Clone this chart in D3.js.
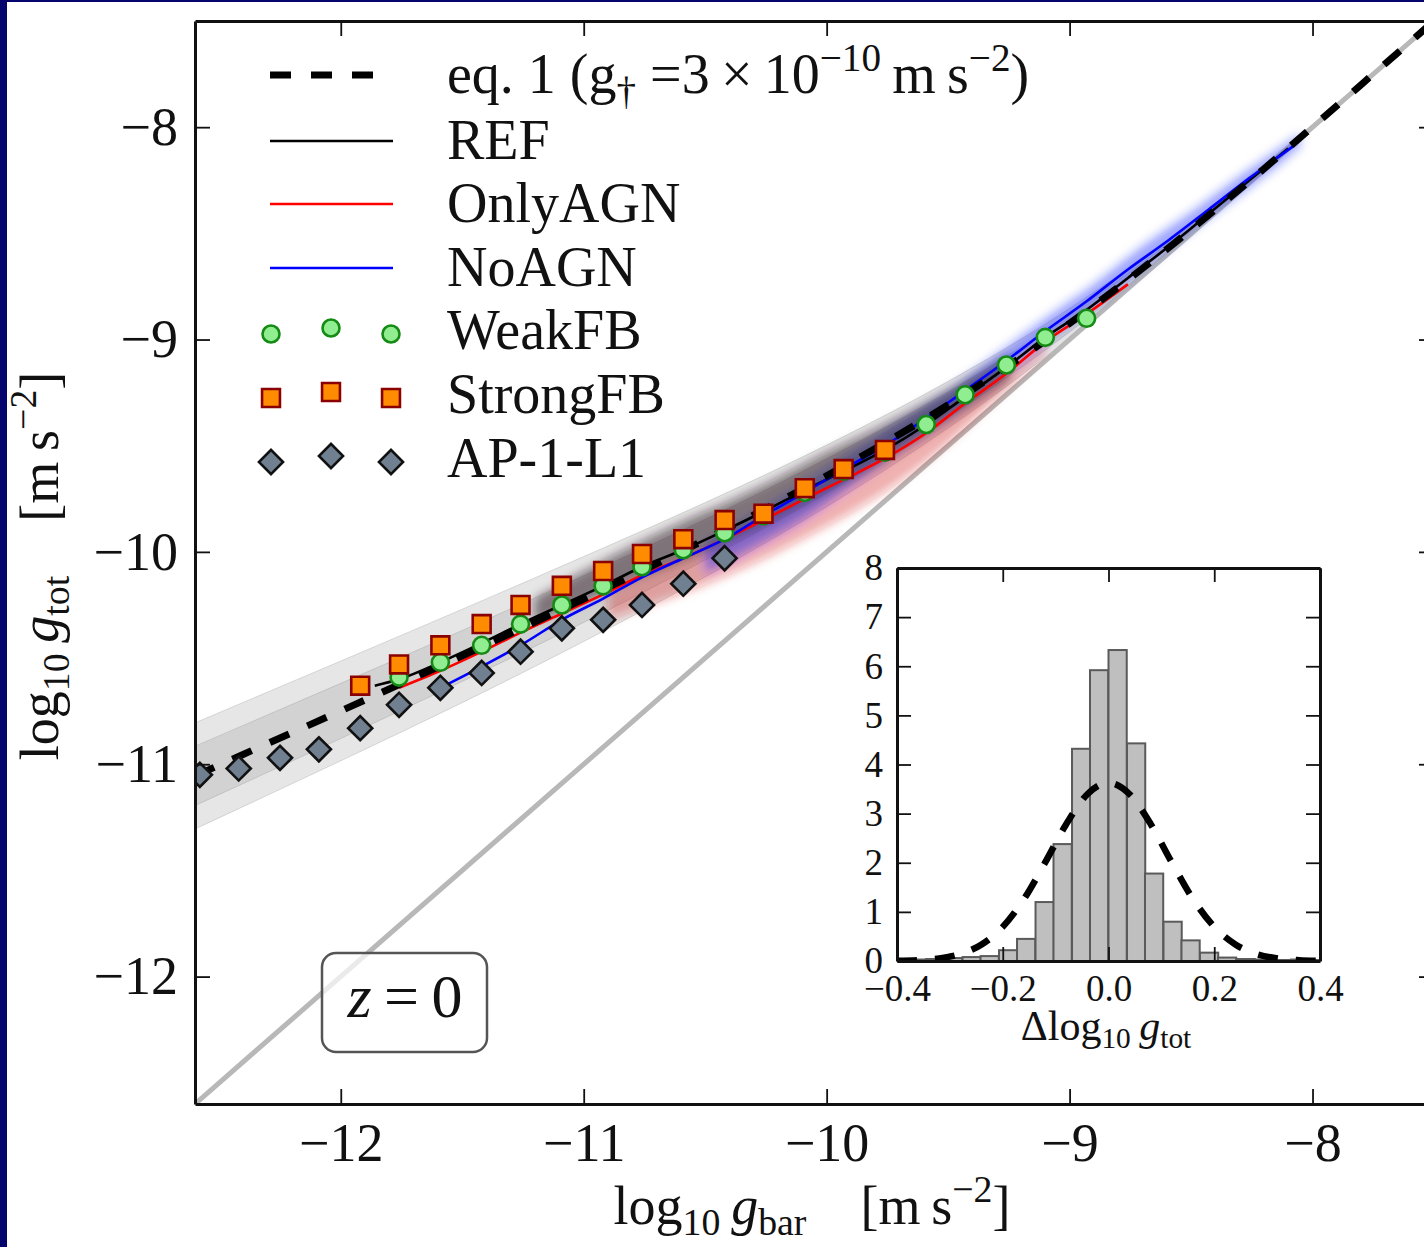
<!DOCTYPE html>
<html>
<head>
<meta charset="utf-8">
<script src="https://cdn.jsdelivr.net/npm/d3@7"></script>
<style>
body { margin: 0; background: #fff; }
svg text { font-family: "Liberation Serif", "DejaVu Serif", serif; fill: #111; }
</style>
</head>
<body>
<svg width="1424" height="1247"></svg>
<script>
// ---- data (log10 accelerations, m s^-2) ----
const binX = [-12.58, -12.42, -12.25, -12.09, -11.92, -11.76, -11.59, -11.42, -11.26, -11.09, -10.92,
	-10.76, -10.59, -10.42, -10.26, -10.09, -9.93, -9.76, -9.59, -9.43, -9.26, -9.10, -8.93];
const weakFB = [null, null, null, null, null, -10.59, -10.52, -10.44, -10.34, -10.25, -10.16,
	-10.07, -9.99, -9.91, -9.83, -9.72, -9.62, -9.53, -9.40, -9.26, -9.12, -8.99, -8.90];
const strongFB = [null, null, null, null, -10.63, -10.53, -10.44, -10.34, -10.25, -10.16, -10.09,
	-10.01, -9.94, -9.85, -9.82, -9.70, -9.61, -9.52, null, null, null, null, null];
const ap1L1 = [-11.05, -11.02, -10.97, -10.93, -10.83, -10.72, -10.64, -10.57, -10.47, -10.36, -10.32,
	-10.25, -10.15, -10.03, null, null, null, null, null, null, null, null, null];

const refLine = [[-11.86, -10.63], [-11.76, -10.60], [-11.59, -10.52], [-11.42, -10.43], [-11.26, -10.34],
	[-11.09, -10.25], [-10.92, -10.16], [-10.76, -10.07], [-10.59, -9.99], [-10.42, -9.90], [-10.26, -9.81],
	[-10.09, -9.71], [-9.93, -9.62], [-9.76, -9.52], [-9.59, -9.40], [-9.43, -9.27], [-9.26, -9.13],
	[-9.10, -8.99], [-8.93, -8.86], [-8.76, -8.71], [-8.59, -8.56], [-8.43, -8.41], [-8.26, -8.25], [-8.10, -8.10]];
const onlyAGNLine = [[-11.76, -10.64], [-11.59, -10.56], [-11.42, -10.47], [-11.26, -10.38], [-11.09, -10.29],
	[-10.92, -10.20], [-10.76, -10.11], [-10.59, -10.03], [-10.42, -9.94], [-10.26, -9.85], [-10.09, -9.75],
	[-9.93, -9.66], [-9.76, -9.56], [-9.59, -9.44], [-9.43, -9.30], [-9.26, -9.16], [-9.10, -9.01],
	[-8.93, -8.88], [-8.76, -8.74]];
const noAGNLine = [[-11.59, -10.64], [-11.42, -10.54], [-11.26, -10.44], [-11.09, -10.32], [-10.92, -10.22],
	[-10.76, -10.12], [-10.59, -10.03], [-10.42, -9.94], [-10.26, -9.83], [-10.09, -9.72], [-9.93, -9.61],
	[-9.76, -9.50], [-9.59, -9.37], [-9.43, -9.24], [-9.26, -9.10], [-9.10, -8.96], [-8.93, -8.82],
	[-8.76, -8.67], [-8.59, -8.53], [-8.43, -8.39], [-8.26, -8.24], [-8.08, -8.09]];

// eq. 1 with g_dagger = 3e-10
const eqX = [-12.6, -12.4, -12.2, -12.0, -11.8, -11.6, -11.4, -11.2, -11.0, -10.8, -10.6, -10.4, -10.2,
	-10.0, -9.8, -9.6, -9.4, -9.2, -9.0, -8.8, -8.6, -8.4, -8.2, -8.0, -7.75, -7.5];
const eqY = [-11.055, -10.953, -10.851, -10.749, -10.646, -10.542, -10.437, -10.330, -10.222, -10.112,
	-10.000, -9.885, -9.766, -9.642, -9.513, -9.378, -9.235, -9.084, -8.924, -8.754, -8.575, -8.388,
	-8.196, -7.999, -7.750, -7.500];

// grey scatter bands around eq. 1
const bandX = [-12.6, -12.0, -11.5, -11.0, -10.5, -10.0, -9.5, -9.0, -8.5, -8.0, -7.5];
const outerHi = [-10.805, -10.514, -10.27, -10.022, -9.768, -9.497, -9.197, -8.854, -8.447, -7.987, -7.497];
const outerLo = [-11.305, -10.984, -10.71, -10.422, -10.118, -9.787, -9.417, -8.994, -8.517, -8.011, -7.503];
const innerHi = [-10.915, -10.619, -10.37, -10.112, -9.848, -9.562, -9.247, -8.884, -8.462, -7.992, -7.498];
const innerLo = [-11.195, -10.879, -10.61, -10.332, -10.038, -9.722, -9.367, -8.964, -8.502, -8.006, -7.502];

// clouds of individual galaxies
const cloudRefX = [-11.2, -11.0, -10.8, -10.6, -10.4, -10.2, -10.0, -9.8, -9.6, -9.4, -9.25];
const cloudRefHi = [-10.22, -10.09, -9.97, -9.86, -9.76, -9.65, -9.53, -9.42, -9.30, -9.17, -9.07];
const cloudRefLo = [-10.33, -10.24, -10.14, -10.05, -9.95, -9.84, -9.72, -9.60, -9.46, -9.31, -9.19];
const cloudAgnX = [-10.9, -10.7, -10.5, -10.3, -10.1, -9.9, -9.7, -9.5, -9.3, -9.1];
const cloudAgnHi = [-10.20, -10.09, -9.985, -9.875, -9.76, -9.645, -9.52, -9.37, -9.20, -9.01];
const cloudAgnLo = [-10.32, -10.24, -10.155, -10.055, -9.94, -9.815, -9.67, -9.49, -9.28, -9.06];
const cloudNoAgnX = [-10.5, -10.3, -10.1, -9.9, -9.7, -9.5, -9.3, -9.1, -8.9, -8.7, -8.5, -8.3, -8.1, -8.05];
const cloudNoAgnHi = [-9.96, -9.83, -9.69, -9.54, -9.39, -9.24, -9.07, -8.90, -8.74, -8.56, -8.40, -8.23, -8.07, -8.03];
const cloudNoAgnLo = [-10.10, -9.98, -9.85, -9.69, -9.53, -9.37, -9.19, -9.01, -8.85, -8.67, -8.49, -8.32, -8.14, -8.09];

// inset histogram of residuals
const histLeft = [-0.414, -0.380, -0.345, -0.311, -0.276, -0.242, -0.207, -0.173, -0.138, -0.104, -0.069,
	-0.035, 0.0, 0.035, 0.069, 0.104, 0.138, 0.173, 0.207, 0.242, 0.276, 0.311, 0.345, 0.380];
const histHeight = [0.03, 0.03, 0.04, 0.06, 0.08, 0.10, 0.22, 0.45, 1.20, 2.38, 4.32,
	5.92, 6.33, 4.43, 1.78, 0.80, 0.42, 0.17, 0.07, 0.04, 0.03, 0.02, 0.03, 0.02];
const histWidth = 0.0345;
const gaussX = [-0.40, -0.36, -0.32, -0.28, -0.24, -0.20, -0.16, -0.12, -0.08, -0.04, 0.0,
	0.04, 0.08, 0.12, 0.16, 0.20, 0.24, 0.28, 0.32, 0.36, 0.40];
const gaussY = [0.005, 0.017, 0.053, 0.142, 0.336, 0.695, 1.259, 2.001, 2.784, 3.395, 3.627,
	3.395, 2.784, 2.001, 1.259, 0.695, 0.336, 0.142, 0.053, 0.017, 0.005];

const mainTicks = [-12, -11, -10, -9, -8];
const insetXTicks = [-0.4, -0.2, 0.0, 0.2, 0.4];
const insetYTicks = [0, 1, 2, 3, 4, 5, 6, 7, 8];
const legendNames = ["REF", "OnlyAGN", "NoAGN", "WeakFB", "StrongFB", "AP-1-L1"];

// ---- drawing ----
const svg = d3.select("svg"),
	width = +svg.attr("width"),
	height = +svg.attr("height");

svg.append("rect").attr("width", width).attr("height", height).attr("fill", "#04046c");
svg.append("rect").attr("x", 7).attr("y", 2).attr("width", width).attr("height", height).attr("fill", "#fff");

const x = d3.scaleLinear().domain([-12.6, -7.5]).range([195, 1434]);
const y = d3.scaleLinear().domain([-12.6, -7.5]).range([1104, 21]);

const defs = svg.append("defs");
defs.append("clipPath").attr("id", "plotclip").append("rect")
	.attr("x", 195).attr("y", 21).attr("width", 1239).attr("height", 1083);
defs.append("filter").attr("id", "soft")
	.attr("x", "-20%").attr("y", "-40%").attr("width", "140%").attr("height", "180%")
	.append("feGaussianBlur").attr("stdDeviation", 5);

const plot = svg.append("g").attr("clip-path", "url(#plotclip)");

function zip3(xs, lo, hi) {
	return xs.map(function(d, i) { return [d, lo[i], hi[i]]; });
}
const area = d3.area()
	.x(function(d) { return x(d[0]); })
	.y0(function(d) { return y(d[1]); })
	.y1(function(d) { return y(d[2]); })
	.curve(d3.curveMonotoneX);
const line = d3.line()
	.x(function(d) { return x(d[0]); })
	.y(function(d) { return y(d[1]); })
	.curve(d3.curveMonotoneX);

// grey bands
[[outerLo, outerHi], [innerLo, innerHi]].forEach(function(b) {
	plot.append("path")
		.attr("d", area(zip3(bandX, b[0], b[1])))
		.attr("fill", "#808080")
		.attr("fill-opacity", 0.2)
		.attr("stroke", "#808080")
		.attr("stroke-opacity", 0.25)
		.attr("stroke-width", 1);
});

// one-to-one line
plot.append("line")
	.attr("x1", x(-12.6)).attr("y1", y(-12.6))
	.attr("x2", x(-7.5)).attr("y2", y(-7.5))
	.attr("stroke", "#b8b8b8")
	.attr("stroke-width", 5);

// clouds
const clouds = plot.append("g").attr("filter", "url(#soft)");
clouds.append("path").attr("d", area(zip3(cloudAgnX, cloudAgnLo, cloudAgnHi)))
	.attr("fill", "#d01010").attr("fill-opacity", 0.35);
clouds.append("path").attr("d", area(zip3(cloudNoAgnX, cloudNoAgnLo, cloudNoAgnHi)))
	.attr("fill", "#2030ff").attr("fill-opacity", 0.45);
clouds.append("path").attr("d", area(zip3(cloudRefX, cloudRefLo, cloudRefHi)))
	.attr("fill", "#2a1a24").attr("fill-opacity", 0.5);

// median lines
[[refLine, "#000"], [onlyAGNLine, "#ff0000"], [noAGNLine, "#0000ff"]].forEach(function(l) {
	plot.append("path")
		.attr("d", line(l[0]))
		.attr("fill", "none")
		.attr("stroke", l[1])
		.attr("stroke-width", 2.6);
});

// eq. 1
plot.append("path")
	.attr("d", line(eqX.map(function(d, i) { return [d, eqY[i]]; })))
	.attr("fill", "none")
	.attr("stroke", "#000")
	.attr("stroke-width", 7)
	.attr("stroke-dasharray", "21,20");

// binned points
const sq = d3.symbol().type(d3.symbolSquare);
plot.selectAll("circle.weak")
	.data(binX.map(function(d, i) { return [d, weakFB[i]]; }).filter(function(d) { return d[1] !== null; }))
	.enter().append("circle")
	.attr("class", "weak")
	.attr("cx", function(d) { return x(d[0]); })
	.attr("cy", function(d) { return y(d[1]); })
	.attr("r", 8.5)
	.attr("fill", "#90ee90")
	.attr("stroke", "#158a15")
	.attr("stroke-width", 2.6);
plot.selectAll("path.strong")
	.data(binX.map(function(d, i) { return [d, strongFB[i]]; }).filter(function(d) { return d[1] !== null; }))
	.enter().append("path")
	.attr("class", "strong")
	.attr("d", sq.size(320))
	.attr("transform", function(d) { return "translate(" + x(d[0]) + "," + y(d[1]) + ")"; })
	.attr("fill", "#ff8c00")
	.attr("stroke", "#8b0000")
	.attr("stroke-width", 2.6);
plot.selectAll("path.ap")
	.data(binX.map(function(d, i) { return [d, ap1L1[i]]; }).filter(function(d) { return d[1] !== null; }))
	.enter().append("path")
	.attr("class", "ap")
	.attr("d", d3.symbol().type(d3.symbolSquare).size(290))
	.attr("transform", function(d) { return "translate(" + x(d[0]) + "," + y(d[1]) + ") rotate(45)"; })
	.attr("fill", "#708090")
	.attr("stroke", "#111")
	.attr("stroke-width", 2.6);

// axes with inward ticks on all four sides
function styleAxis(g, size) {
	g.select(".domain").attr("stroke", "#111").attr("stroke-width", 3);
	g.selectAll(".tick line").attr("stroke", "#111").attr("stroke-width", 1.8);
	g.selectAll(".tick text").attr("font-size", size).attr("fill", "#111");
}
const fmtInt = d3.format("d");
svg.append("g").attr("transform", "translate(0,1104)")
	.call(d3.axisBottom(x).tickValues(mainTicks).tickFormat(fmtInt).tickSizeInner(-15).tickSizeOuter(0).tickPadding(19))
	.call(styleAxis, 54);
svg.append("g").attr("transform", "translate(0,21)")
	.call(d3.axisTop(x).tickValues(mainTicks).tickFormat("").tickSizeInner(-15).tickSizeOuter(0))
	.call(styleAxis, 54);
svg.append("g").attr("transform", "translate(195,0)")
	.call(d3.axisLeft(y).tickValues(mainTicks).tickFormat(fmtInt).tickSizeInner(-15).tickSizeOuter(0).tickPadding(17))
	.call(styleAxis, 54);
svg.append("g").attr("transform", "translate(1434,0)")
	.call(d3.axisRight(y).tickValues(mainTicks).tickFormat("").tickSizeInner(-15).tickSizeOuter(0))
	.call(styleAxis, 54);

// text with sub/superscripts
function mathText(sel, parts, size) {
	let shift = 0;
	parts.forEach(function(p) {
		const target = p.sub ? size * 0.2 : (p.sup ? -size * 0.4 : 0);
		sel.append("tspan")
			.attr("dy", target - shift)
			.attr("font-size", (p.sub || p.sup) ? size * 0.7 : size)
			.attr("font-style", p.it ? "italic" : null)
			.text(p.t);
		shift = target;
	});
}

mathText(svg.append("text").attr("x", 812).attr("y", 1224).attr("text-anchor", "middle"), [
	{t: "log"}, {t: "10", sub: true}, {t: "\u2009"}, {t: "g", it: true}, {t: "bar", sub: true},
	{t: "\u2003[m\u2009s"}, {t: "\u22122", sup: true}, {t: "]"}], 54);
mathText(svg.append("text").attr("transform", "translate(58,566) rotate(-90)").attr("text-anchor", "middle"), [
	{t: "log"}, {t: "10", sub: true}, {t: "\u2009"}, {t: "g", it: true}, {t: "tot", sub: true},
	{t: "\u2003[m\u2009s"}, {t: "\u22122", sup: true}, {t: "]"}], 54);

// legend
const legend = svg.append("g");
const rowY = [75, 141, 204, 268, 331, 395, 459];
legend.append("line")
	.attr("x1", 270).attr("x2", 393).attr("y1", rowY[0]).attr("y2", rowY[0])
	.attr("stroke", "#000").attr("stroke-width", 7).attr("stroke-dasharray", "21,20");
["#000", "#ff0000", "#0000ff"].forEach(function(c, i) {
	legend.append("line")
		.attr("x1", 270).attr("x2", 393).attr("y1", rowY[i + 1]).attr("y2", rowY[i + 1])
		.attr("stroke", c).attr("stroke-width", 2.6);
});
const legendOffsets = [3, -3, 3];
[271, 331, 391].forEach(function(px, j) {
	legend.append("circle")
		.attr("cx", px).attr("cy", rowY[4] + legendOffsets[j]).attr("r", 8.5)
		.attr("fill", "#90ee90").attr("stroke", "#158a15").attr("stroke-width", 2.6);
	legend.append("path")
		.attr("d", d3.symbol().type(d3.symbolSquare).size(320))
		.attr("transform", "translate(" + px + "," + (rowY[5] + legendOffsets[j]) + ")")
		.attr("fill", "#ff8c00").attr("stroke", "#8b0000").attr("stroke-width", 2.6);
	legend.append("path")
		.attr("d", d3.symbol().type(d3.symbolSquare).size(290))
		.attr("transform", "translate(" + px + "," + (rowY[6] + legendOffsets[j]) + ") rotate(45)")
		.attr("fill", "#708090").attr("stroke", "#111").attr("stroke-width", 2.6);
});
mathText(legend.append("text").attr("x", 447).attr("y", rowY[0] + 18), [
	{t: "eq. 1 (g"}, {t: "\u2020", sub: true}, {t: " =3\u2009\u00d7\u200910"}, {t: "\u221210", sup: true},
	{t: "\u2009m\u2009s"}, {t: "\u22122", sup: true}, {t: ")"}], 56);
legendNames.forEach(function(name, i) {
	legend.append("text")
		.attr("x", 447).attr("y", rowY[i + 1] + 18)
		.attr("font-size", 56)
		.text(name);
});

// redshift box
svg.append("rect")
	.attr("x", 322).attr("y", 953).attr("width", 165).attr("height", 99).attr("rx", 14)
	.attr("fill", "#fff").attr("fill-opacity", 0.7)
	.attr("stroke", "#555").attr("stroke-width", 2.5);
const zt = svg.append("text").attr("x", 405).attr("y", 1017).attr("text-anchor", "middle").attr("font-size", 62);
zt.append("tspan").attr("font-style", "italic").text("z");
zt.append("tspan").text("\u2009=\u20090");

// ---- inset ----
const ix = d3.scaleLinear().domain([-0.4, 0.4]).range([897, 1320]);
const iy = d3.scaleLinear().domain([0, 8]).range([961, 568]);
const inset = svg.append("g");
inset.append("rect").attr("x", 897).attr("y", 568).attr("width", 423).attr("height", 393).attr("fill", "#fff");
defs.append("clipPath").attr("id", "insetclip").append("rect")
	.attr("x", 897).attr("y", 568).attr("width", 423).attr("height", 393);
const ib = inset.append("g").attr("clip-path", "url(#insetclip)");
ib.selectAll("rect.bar")
	.data(histLeft.map(function(d, i) { return [d, histHeight[i]]; }))
	.enter().append("rect")
	.attr("class", "bar")
	.attr("x", function(d) { return ix(d[0]); })
	.attr("width", function(d) { return ix(d[0] + histWidth) - ix(d[0]); })
	.attr("y", function(d) { return iy(d[1]); })
	.attr("height", function(d) { return iy(0) - iy(d[1]); })
	.attr("fill", "#bfbfbf")
	.attr("stroke", "#5a5a5a")
	.attr("stroke-width", 2);
ib.append("path")
	.attr("d", d3.line()
		.x(function(d) { return ix(d[0]); })
		.y(function(d) { return iy(d[1]); })
		.curve(d3.curveMonotoneX)(gaussX.map(function(d, i) { return [d, gaussY[i]]; })))
	.attr("fill", "none")
	.attr("stroke", "#000")
	.attr("stroke-width", 6.5)
	.attr("stroke-dasharray", "20,18");

const fmt1 = d3.format(".1f");
inset.append("g").attr("transform", "translate(0,961)")
	.call(d3.axisBottom(ix).tickValues(insetXTicks).tickFormat(fmt1).tickSizeInner(-14).tickSizeOuter(0).tickPadding(14))
	.call(styleAxis, 37);
inset.append("g").attr("transform", "translate(0,568)")
	.call(d3.axisTop(ix).tickValues(insetXTicks).tickFormat("").tickSizeInner(-14).tickSizeOuter(0))
	.call(styleAxis, 37);
inset.append("g").attr("transform", "translate(897,0)")
	.call(d3.axisLeft(iy).tickValues(insetYTicks).tickFormat(fmtInt).tickSizeInner(-14).tickSizeOuter(0).tickPadding(14))
	.call(styleAxis, 37);
inset.append("g").attr("transform", "translate(1320,0)")
	.call(d3.axisRight(iy).tickValues(insetYTicks).tickFormat("").tickSizeInner(-14).tickSizeOuter(0))
	.call(styleAxis, 37);
mathText(inset.append("text").attr("x", 1106).attr("y", 1040).attr("text-anchor", "middle"), [
	{t: "\u0394log"}, {t: "10", sub: true}, {t: "\u2009"}, {t: "g", it: true}, {t: "tot", sub: true}], 42);
</script>
</body>
</html>
